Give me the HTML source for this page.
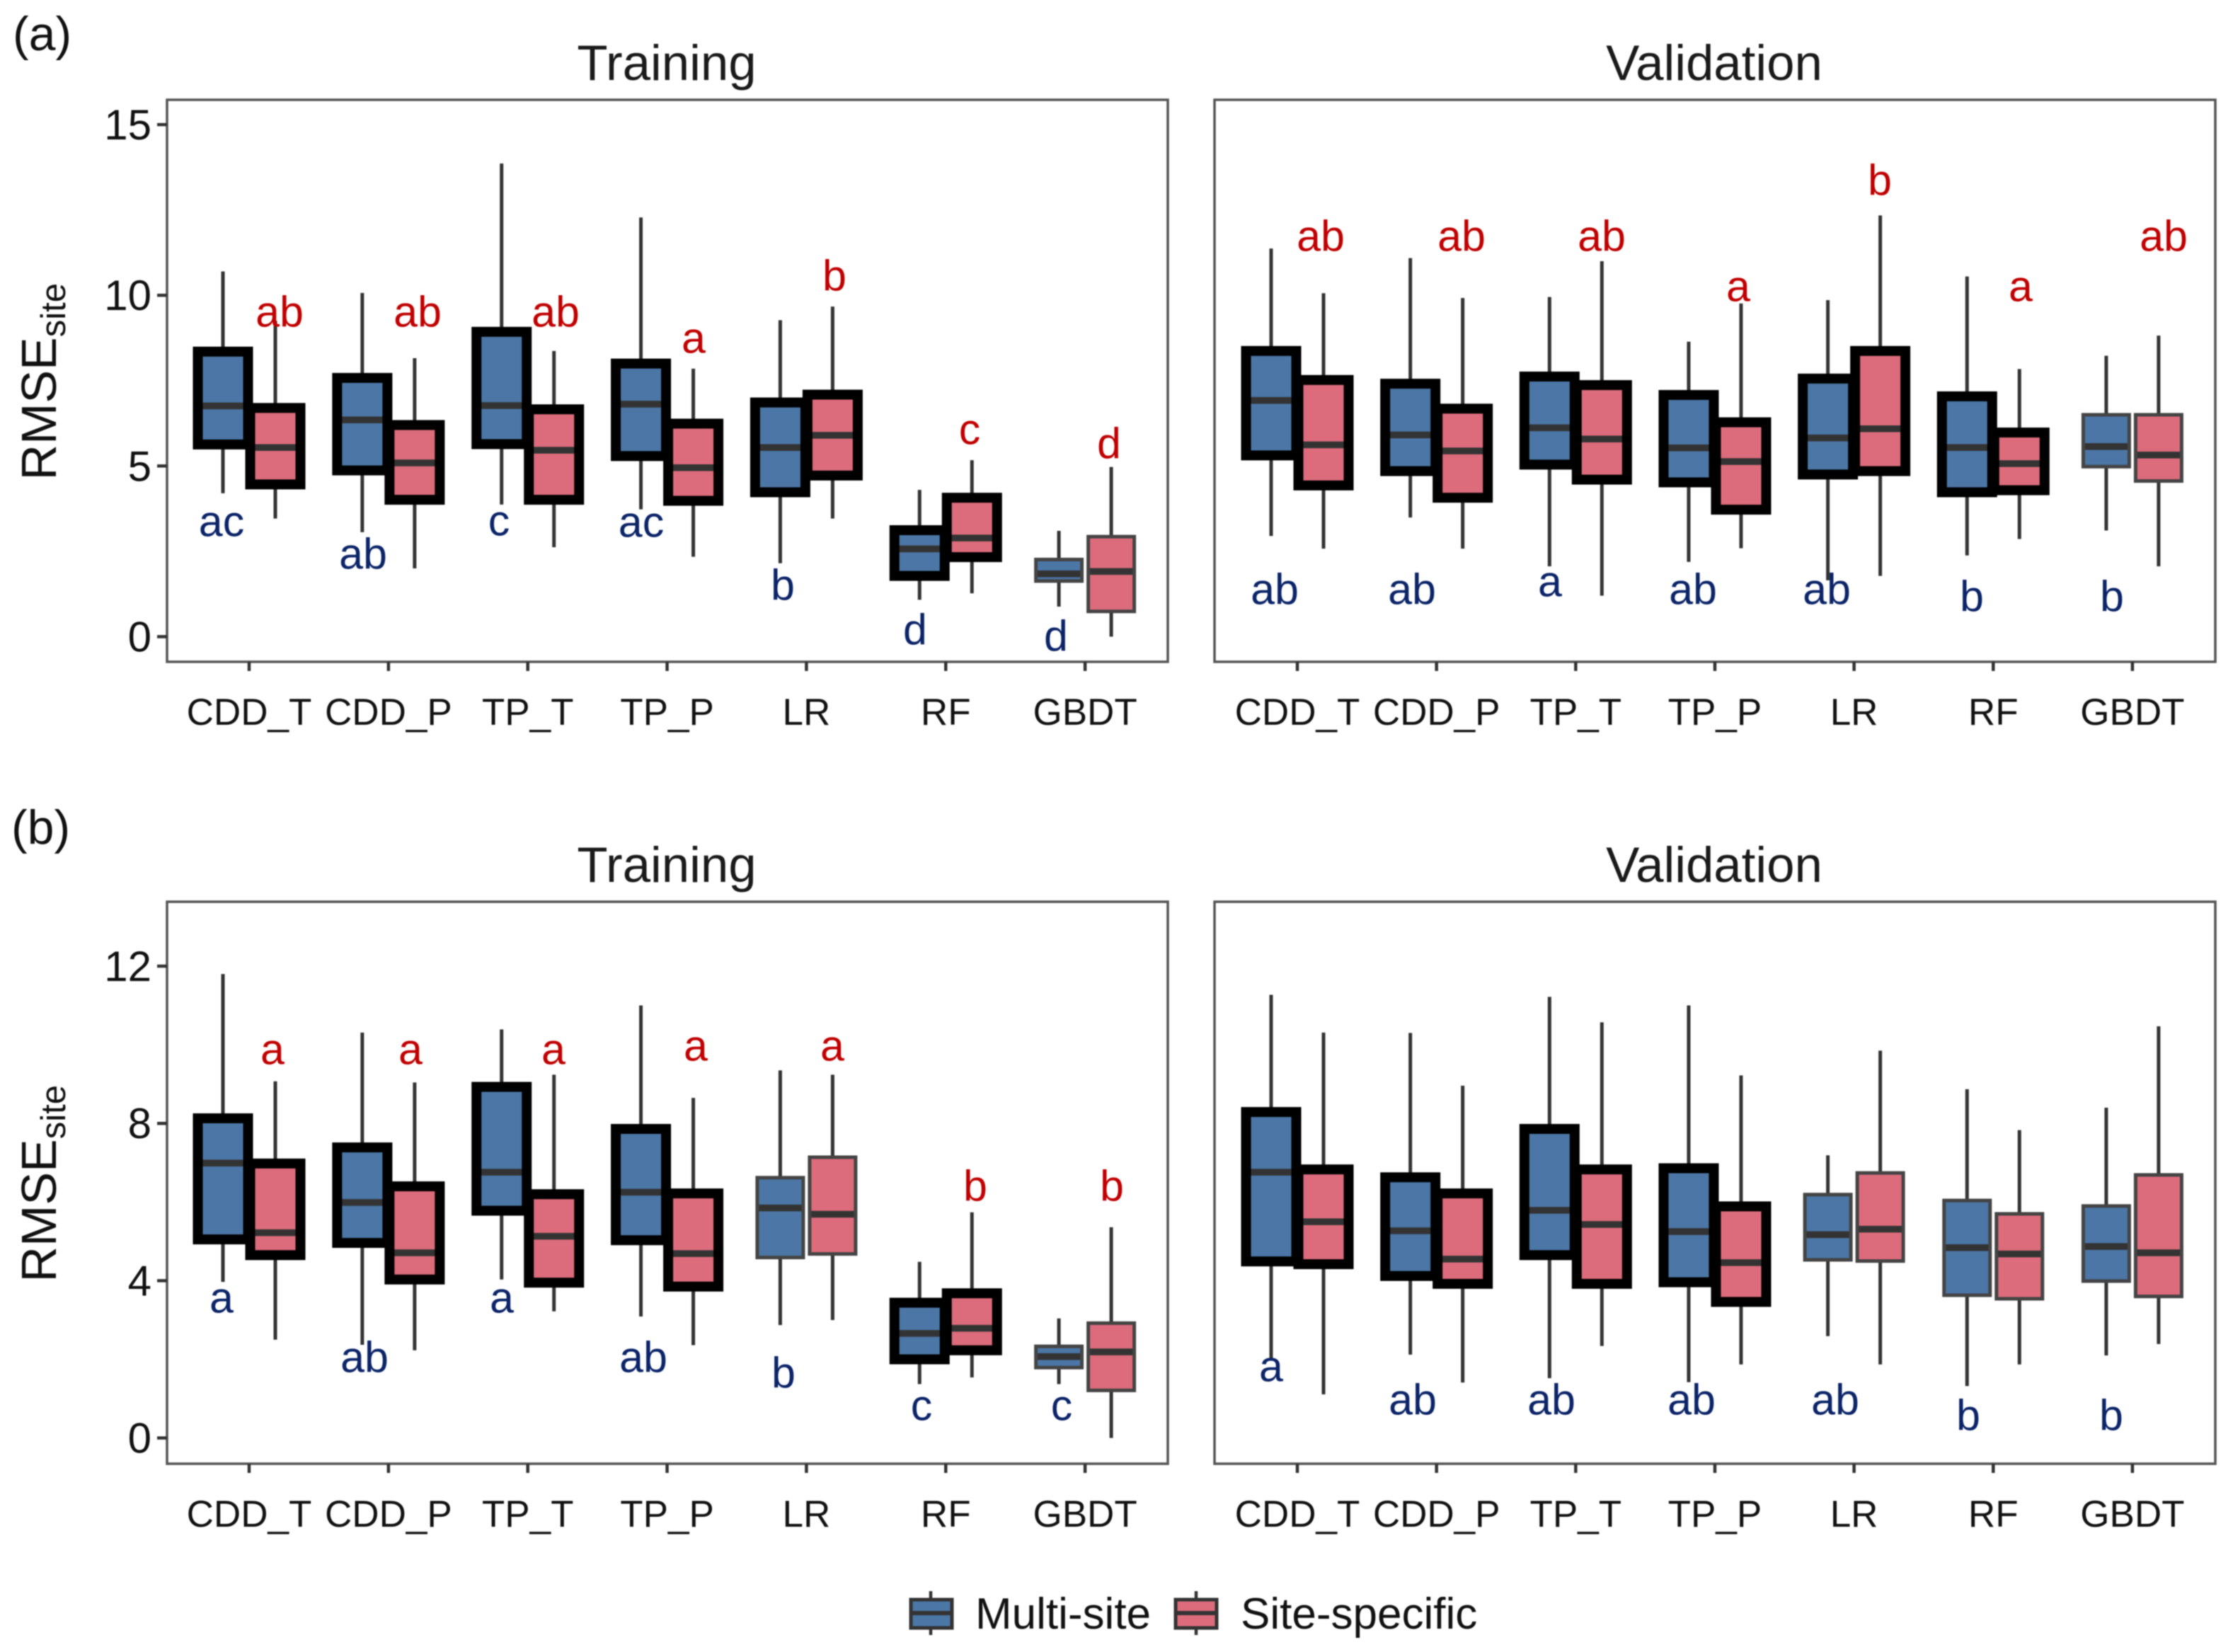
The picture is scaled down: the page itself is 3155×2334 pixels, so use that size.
<!DOCTYPE html>
<html lang="en">
<head>
<meta charset="utf-8">
<title>RMSE site boxplots</title>
<style>
html,body{margin:0;padding:0;background:#fff;}
svg{display:block;font-family:"Liberation Sans",Arial,sans-serif;filter:blur(0.9px);}
.lab-blue{fill:#0b2468;font-size:61px;text-anchor:middle;}
.lab-red{fill:#c00000;font-size:61px;text-anchor:middle;}
.title{font-size:70.8px;fill:#1a1a1a;text-anchor:middle;}
.tag{font-size:68px;fill:#111;}
.ylab{font-size:70px;fill:#111;}
.legend-text{font-size:62px;fill:#111;}
</style>
</head>
<body>
<svg id="chart" xmlns="http://www.w3.org/2000/svg" width="3155" height="2334" viewBox="0 0 3155 2334">
  <rect x="0" y="0" width="3155" height="2334" fill="#ffffff"/>
  <g id="marks"></g>

  <text class="tag" x="18" y="71">(a)</text>
  <text class="tag" x="16" y="1192">(b)</text>
  <text class="title" x="942" y="113">Training</text>
  <text class="title" x="2422" y="113">Validation</text>
  <text class="title" x="942" y="1246">Training</text>
  <text class="title" x="2422" y="1246">Validation</text>

  <text class="ylab" transform="translate(79,678.5) rotate(-90)">RMSE<tspan font-size="49" dy="13">site</tspan></text>
  <text class="ylab" transform="translate(79,1811.5) rotate(-90)">RMSE<tspan font-size="49" dy="13">site</tspan></text>

  <g transform="translate(0,1.5)">
    <text class="lab-red" x="395" y="460">ab</text>
    <text class="lab-red" x="590" y="460">ab</text>
    <text class="lab-red" x="785" y="460">ab</text>
    <text class="lab-red" x="980" y="497">a</text>
    <text class="lab-red" x="1179" y="409">b</text>
    <text class="lab-red" x="1370" y="626">c</text>
    <text class="lab-red" x="1567" y="646">d</text>
    <text class="lab-blue" x="313" y="756">ac</text>
    <text class="lab-blue" x="513" y="802">ab</text>
    <text class="lab-blue" x="705" y="755">c</text>
    <text class="lab-blue" x="906" y="757">ac</text>
    <text class="lab-blue" x="1106" y="846">b</text>
    <text class="lab-blue" x="1293" y="909">d</text>
    <text class="lab-blue" x="1492" y="918">d</text>
  </g>
  <g transform="translate(0,1.5)">
    <text class="lab-red" x="1866" y="353">ab</text>
    <text class="lab-red" x="2065" y="353">ab</text>
    <text class="lab-red" x="2263" y="353">ab</text>
    <text class="lab-red" x="2456" y="424">a</text>
    <text class="lab-red" x="2656" y="274">b</text>
    <text class="lab-red" x="2855" y="424">a</text>
    <text class="lab-red" x="3057" y="353">ab</text>
    <text class="lab-blue" x="1801" y="852">ab</text>
    <text class="lab-blue" x="1995" y="852">ab</text>
    <text class="lab-blue" x="2190" y="841">a</text>
    <text class="lab-blue" x="2392" y="852">ab</text>
    <text class="lab-blue" x="2581" y="852">ab</text>
    <text class="lab-blue" x="2786" y="862">b</text>
    <text class="lab-blue" x="2984" y="862">b</text>
  </g>
  <g transform="translate(0,1.5)">
    <text class="lab-red" x="385" y="1502">a</text>
    <text class="lab-red" x="580" y="1502">a</text>
    <text class="lab-red" x="782" y="1502">a</text>
    <text class="lab-red" x="983" y="1497">a</text>
    <text class="lab-red" x="1176" y="1497">a</text>
    <text class="lab-red" x="1378" y="1695">b</text>
    <text class="lab-red" x="1571" y="1695">b</text>
    <text class="lab-blue" x="313" y="1853">a</text>
    <text class="lab-blue" x="515" y="1937">ab</text>
    <text class="lab-blue" x="709" y="1853">a</text>
    <text class="lab-blue" x="909" y="1937">ab</text>
    <text class="lab-blue" x="1107" y="1959">b</text>
    <text class="lab-blue" x="1302" y="2005">c</text>
    <text class="lab-blue" x="1500" y="2005">c</text>
  </g>
  <g transform="translate(0,1.5)">
    <text class="lab-blue" x="1796" y="1950">a</text>
    <text class="lab-blue" x="1996" y="1997">ab</text>
    <text class="lab-blue" x="2192" y="1997">ab</text>
    <text class="lab-blue" x="2390" y="1997">ab</text>
    <text class="lab-blue" x="2593" y="1997">ab</text>
    <text class="lab-blue" x="2781" y="2019">b</text>
    <text class="lab-blue" x="2983" y="2019">b</text>
  </g>

  <g>
    <g>
      <line x1="1315" x2="1315" y1="2248" y2="2310" stroke="#333" stroke-width="4.5"/>
      <rect x="1287" y="2260" width="58" height="40" fill="#4b76a5" stroke="#333" stroke-width="5"/>
      <line x1="1287" x2="1345" y1="2279" y2="2279" stroke="#333" stroke-width="6"/>
      <text class="legend-text" x="1378" y="2301">Multi-site</text>
    </g>
    <g>
      <line x1="1690" x2="1690" y1="2248" y2="2310" stroke="#333" stroke-width="4.5"/>
      <rect x="1661" y="2260" width="58" height="40" fill="#dc6c7c" stroke="#333" stroke-width="5"/>
      <line x1="1661" x2="1719" y1="2279" y2="2279" stroke="#333" stroke-width="6"/>
      <text class="legend-text" x="1753" y="2301">Site-specific</text>
    </g>
  </g>
</svg>

<script>
// Shared categories and tick labels
const categories = ["CDD_T", "CDD_P", "TP_T", "TP_P", "LR", "RF", "GBDT"];
const yTicksA = [0, 5, 10, 15];
const yTicksB = [0, 4, 8, 12];

// Each row: [lower whisker, Q1, median, Q3, upper whisker], in category order
const aTrainMulti = [
  [4.2, 5.63, 6.76, 8.35, 10.7],
  [3.06, 4.87, 6.35, 7.58, 10.07],
  [3.87, 5.64, 6.77, 8.93, 13.86],
  [3.73, 5.29, 6.81, 8.0, 12.28],
  [2.15, 4.23, 5.54, 6.86, 9.27],
  [1.08, 1.78, 2.57, 3.12, 4.3],
  [0.88, 1.63, 1.84, 2.26, 3.1]
];
const aTrainSite = [
  [3.46, 4.46, 5.54, 6.7, 9.25],
  [2.0, 4.01, 5.09, 6.2, 8.16],
  [2.62, 4.01, 5.46, 6.66, 8.37],
  [2.34, 3.98, 4.95, 6.24, 7.85],
  [3.46, 4.72, 5.9, 7.09, 9.67],
  [1.27, 2.33, 2.89, 4.07, 5.17],
  [0, 0.74, 1.91, 2.93, 4.97]
];
const aValidMulti = [
  [2.95, 5.31, 6.92, 8.37, 11.37],
  [3.49, 4.85, 5.91, 7.41, 11.09],
  [2.06, 5.04, 6.12, 7.62, 9.95],
  [2.19, 4.52, 5.53, 7.08, 8.64],
  [1.65, 4.75, 5.82, 7.56, 9.86],
  [2.38, 4.23, 5.54, 7.04, 10.55],
  [3.11, 4.98, 5.57, 6.5, 8.23]
];
const aValidSite = [
  [2.58, 4.43, 5.62, 7.52, 10.06],
  [2.58, 4.07, 5.44, 6.68, 9.92],
  [1.2, 4.6, 5.79, 7.37, 11.0],
  [2.59, 3.72, 5.13, 6.28, 9.76],
  [1.78, 4.85, 6.09, 8.37, 12.34],
  [2.86, 4.29, 5.07, 5.98, 7.84],
  [2.06, 4.56, 5.32, 6.5, 8.82]
];
const bTrainMulti = [
  [3.97, 5.05, 6.99, 8.13, 11.8],
  [2.37, 4.96, 5.99, 7.39, 10.31],
  [4.03, 5.78, 6.76, 8.93, 10.39],
  [3.09, 5.03, 6.25, 7.86, 11.0],
  [2.87, 4.59, 5.85, 6.62, 9.35],
  [1.37, 2.0, 2.66, 3.44, 4.48],
  [1.37, 1.79, 2.07, 2.33, 3.04]
];
const bTrainSite = [
  [2.5, 4.65, 5.22, 6.98, 9.07],
  [2.23, 4.03, 4.71, 6.4, 9.04],
  [3.22, 3.95, 5.13, 6.2, 9.24],
  [2.36, 3.85, 4.69, 6.22, 8.65],
  [3.0, 4.68, 5.69, 7.14, 9.24],
  [1.54, 2.23, 2.79, 3.68, 5.74],
  [0, 1.21, 2.19, 2.92, 5.36]
];
const bValidMulti = [
  [1.99, 4.49, 6.76, 8.29, 11.27],
  [2.12, 4.12, 5.27, 6.63, 10.3],
  [1.52, 4.65, 5.79, 7.86, 11.22],
  [1.42, 3.96, 5.25, 6.86, 11.0],
  [2.59, 4.53, 5.17, 6.19, 7.19],
  [1.32, 3.63, 4.84, 6.04, 8.87],
  [2.1, 3.99, 4.87, 5.9, 8.4]
];
const bValidSite = [
  [1.11, 4.42, 5.5, 6.83, 10.31],
  [1.41, 3.92, 4.55, 6.22, 8.96],
  [2.34, 3.92, 5.43, 6.83, 10.57],
  [1.87, 3.46, 4.46, 5.89, 9.22],
  [1.87, 4.5, 5.31, 6.74, 9.85],
  [1.87, 3.54, 4.68, 5.7, 7.83],
  [2.39, 3.6, 4.71, 6.69, 10.47]
];

// Models whose boxes carry the heavy outline in each panel
const aTrainEmphasis = ["CDD_T", "CDD_P", "TP_T", "TP_P", "LR", "RF"];
const aValidEmphasis = ["CDD_T", "CDD_P", "TP_T", "TP_P", "LR", "RF"];
const bTrainEmphasis = ["CDD_T", "CDD_P", "TP_T", "TP_P", "RF"];
const bValidEmphasis = ["CDD_T", "CDD_P", "TP_T", "TP_P"];

const NS = "http://www.w3.org/2000/svg";
const INK = "#333333";
const MULTI_FILL = "#4b76a5";
const SITE_FILL = "#dc6c7c";
const root = document.getElementById("marks");

function xAxisLeft(i) { return 352 + i * 196.85; }
function xAxisRight(i) { return 1833 + i * 196.65; }
function yAxisA(v) { return 899.5 - v * 48.23; }
function yAxisB(v) { return 2031.6 - v * 55.55; }

function shape(tag, parent, props) {
  const node = document.createElementNS(NS, tag);
  for (const k in props) { node.setAttribute(k, props[k]); }
  parent.appendChild(node);
  return node;
}

function drawBox(group, cx, stats, yAxis, fill, heavy, label) {
  const half = heavy ? 35.5 : 32.5;
  const yLow = yAxis(stats[0]), yQ1 = yAxis(stats[1]), yMed = yAxis(stats[2]), yQ3 = yAxis(stats[3]), yHigh = yAxis(stats[4]);

  const upper = shape("line", group, {x1: cx, x2: cx, y1: yHigh, y2: yQ3, stroke: INK, "stroke-width": 5});
  
  

  const lower = shape("line", group, {x1: cx, x2: cx, y1: yQ1, y2: yLow, stroke: INK, "stroke-width": 5});
  
  

  const body = shape("rect", group, {x: cx - half, y: yQ3, width: half * 2, height: yQ1 - yQ3, fill: fill});
  
  

  const median = shape("line", group, {x1: cx - half, x2: cx + half, y1: yMed, y2: yMed, stroke: INK, "stroke-width": 9.5});
  
  

  const outline = shape("rect", group, {x: cx - half, y: yQ3, width: half * 2, height: yQ1 - yQ3, fill: "none",
    stroke: heavy ? "#000000" : "#444444", "stroke-width": heavy ? 14 : 5});
  
  
}

function drawPanel(name, left, right, top, bottom, xAxis, yAxis, yTicks, multi, site, emphasis) {
  const group = shape("g", root, {});
  
  

  const frame = shape("rect", group, {x: left, y: top, width: right - left, height: bottom - top, fill: "#ffffff", stroke: "#555555", "stroke-width": 3.5});
  
  

  categories.forEach(function (cat, i) {
    const cx = xAxis(i);
    const tick = shape("line", group, {x1: cx, x2: cx, y1: bottom, y2: bottom + 13, stroke: INK, "stroke-width": 4.5});
    
    

    const text = shape("text", group, {x: cx, y: bottom + 89, "text-anchor": "middle", "font-size": 53, fill: "#111111"});
    text.textContent = cat;
    
    

    const heavy = emphasis.indexOf(cat) >= 0;
    drawBox(group, cx - 37, multi[i], yAxis, MULTI_FILL, heavy, 'multi-site-' + cat);
    drawBox(group, cx + 37, site[i], yAxis, SITE_FILL, heavy, 'site-specific-' + cat);
  });

  if (yTicks) {
    yTicks.forEach(function (v) {
      const y = yAxis(v);
      const tick = shape("line", group, {x1: left - 14, x2: left, y1: y, y2: y, stroke: INK, "stroke-width": 4.5});
      
      

      const text = shape("text", group, {x: left - 22, y: y + 21, "text-anchor": "end", "font-size": 60, fill: "#111111"});
      text.textContent = String(v);
      
      
    });
  }
}

drawPanel("a-training", 236, 1650, 141, 935, xAxisLeft, yAxisA, yTicksA, aTrainMulti, aTrainSite, aTrainEmphasis);
drawPanel("a-validation", 1716, 3130, 141, 935, xAxisRight, yAxisA, null, aValidMulti, aValidSite, aValidEmphasis);
drawPanel("b-training", 236, 1650, 1274, 2068, xAxisLeft, yAxisB, yTicksB, bTrainMulti, bTrainSite, bTrainEmphasis);
drawPanel("b-validation", 1716, 3130, 1274, 2068, xAxisRight, yAxisB, null, bValidMulti, bValidSite, bValidEmphasis);
</script>
</body>
</html>
